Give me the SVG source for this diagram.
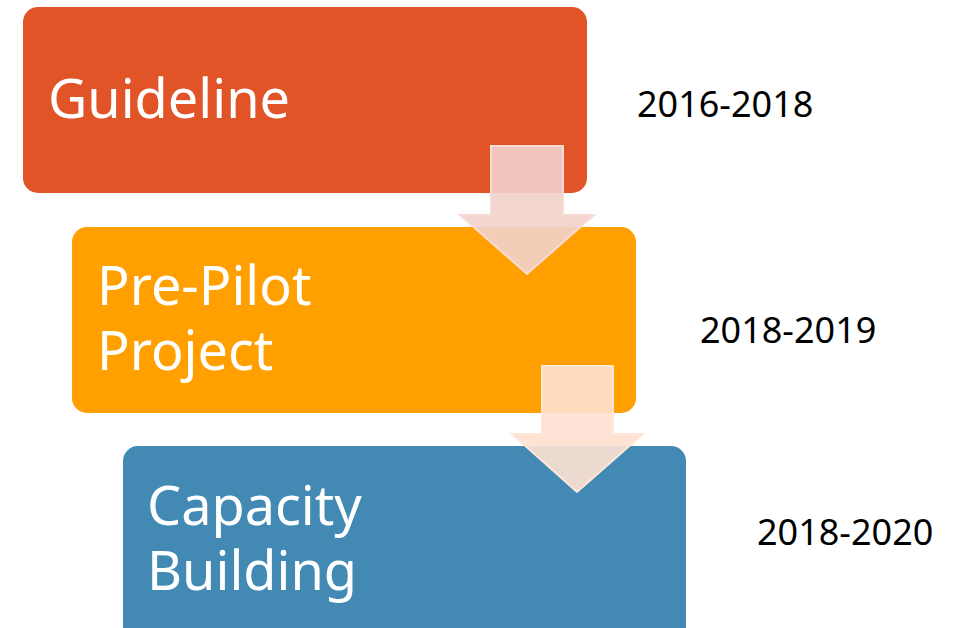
<svg xmlns="http://www.w3.org/2000/svg" width="963" height="628" viewBox="0 0 963 628">
<style>
.lbl{font-family:"Noto Sans","Open Sans",sans-serif;font-size:54px;fill:#fff}
.yr{font-family:"Noto Sans","Open Sans",sans-serif;font-size:36px;fill:#000}
</style>
<rect width="963" height="628" fill="#fff"/>
<g id="guideline">
<rect x="23" y="7" width="564" height="186" rx="15" fill="#E05428"/>
<text class="lbl" x="48" y="118">Guideline</text>
</g>
<g id="prepilot">
<rect x="72" y="227" width="564" height="186" rx="15" fill="#FFA000"/>
<text class="lbl" x="97" y="305">Pre-Pilot</text>
<text class="lbl" x="97" y="370">Project</text>
</g>
<g id="capacity">
<rect x="123" y="446" width="563" height="200" rx="15" fill="#428AB4"/>
<text class="lbl" x="147" y="525">Capacity</text>
<text class="lbl" x="147" y="590">Building</text>
</g>
<g id="years">
<text class="yr" x="637" y="117">2016-2018</text>
<text class="yr" x="700" y="343">2018-2019</text>
<text class="yr" x="757" y="545">2018-2020</text>
</g>
<g id="connectors">
<polygon points="491,146 563,146 563,215 594,215 527,274 460,215 491,215" fill="#F3D1CC" fill-opacity="0.9" stroke="#F7DCD6" stroke-width="2"/>
<polygon points="542,366 613,366 613,434 643,434 577,492 512,434 542,434" fill="#FFE1D2" fill-opacity="0.9" stroke="#FFE6D8" stroke-width="2"/>
</g>
</svg>
